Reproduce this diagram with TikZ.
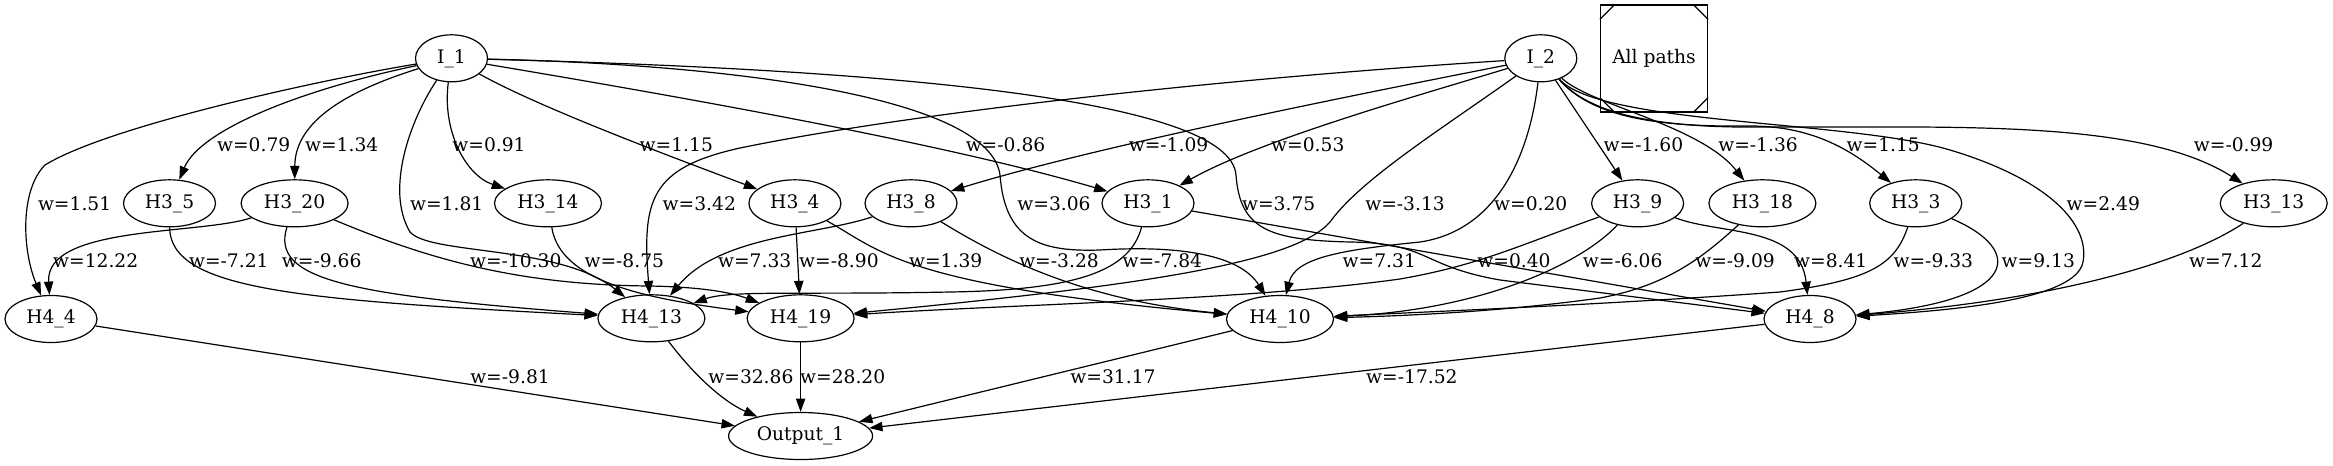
\documentclass[tikz,border=0pt]{standalone}
\usepackage{fontspec}
\setmainfont{DejaVu Serif}
\usetikzlibrary{arrows.meta,shapes.geometric}
\begin{document}
\begin{tikzpicture}[x=0.75pt,y=-0.75pt,
  every node/.style={font=\fontsize{14}{16}\selectfont},
  nd/.style={draw, ellipse, line width=0.9pt, inner sep=0pt, minimum height=35.25pt},
  ni/.style={nd, minimum width=54pt},
  ns/.style={nd, minimum width=69pt},
  nm/.style={nd, minimum width=80.25pt},
  no/.style={nd, minimum width=108pt},
  e/.style={draw, line width=0.9pt, -{Triangle[length=10pt,width=7pt]}},
  lb/.style={inner sep=0pt},
  apbox/.style={draw, line width=0.9pt, minimum width=80.25pt, minimum height=80.25pt, inner sep=0pt}
]
\useasboundingbox (0,0) rectangle (2333,465);

% nodes
\node[ni] (I1) at (451.5,58.3) {I\_1};
\node[ni] (I2) at (1540.8,58.3) {I\_2};
\node[apbox] (ap) at (1654,58.5) {All paths};
\draw[line width=0.9pt] (ap.north west) ++(0,15) -- ++(15,-15);
\draw[line width=0.9pt] (ap.north east) ++(-15,0) -- ++(15,15);
\draw[line width=0.9pt] (ap.south west) ++(0,-15) -- ++(15,15);
\draw[line width=0.9pt] (ap.south east) ++(-15,0) -- ++(15,-15);

\node[ns] (Ha5)  at (169.5,203.3) {H3\_5};
\node[nm] (Ha20) at (294.6,203.3) {H3\_20};
\node[nm] (Ha14) at (548,203.3) {H3\_14};
\node[ns] (Ha4)  at (794.9,203.3) {H3\_4};
\node[ns] (Ha8)  at (911,203.3) {H3\_8};
\node[ns] (Ha1)  at (1148,203.3) {H3\_1};
\node[ns] (Ha9)  at (1637.6,203.3) {H3\_9};
\node[nm] (Ha18) at (1762.4,203.3) {H3\_18};
\node[ns] (Ha3)  at (1915.7,203.3) {H3\_3};
\node[nm] (Ha13) at (2273.7,203.3) {H3\_13};

\node[ns] (Hb4)  at (51,319) {H4\_4};
\node[nm] (Hb13) at (651.4,318.3) {H4\_13};
\node[nm] (Hb19) at (800.6,318.3) {H4\_19};
\node[nm] (Hb10) at (1280,319) {H4\_10};
\node[ns] (Hb8)  at (1810,319) {H4\_8};
\node[no] (Out)  at (800.6,436) {Output\_1};

% I_1 edges
\draw[e] (I1) .. controls (330,78) and (110,125) .. (45,165) .. controls (20,190) and (22,250) .. (Hb4);
\draw[e] (I1) .. controls (300,90) and (200,130) .. (Ha5);
\draw[e] (I1) .. controls (350,90) and (295,120) .. (Ha20);
\draw[e] (I1) .. controls (442,130) and (465,175) .. (Ha14);
\draw[e] (I1) .. controls (410,120) and (385,190) .. (410,232) .. controls (430,255) and (560,245) .. (Hb13);
\draw[e] (I1) .. controls (540,108) and (680,160) .. (Ha4);
\draw[e] (I1) .. controls (700,100) and (950,145) .. (Ha1);
\draw[e] (I1) .. controls (750,65) and (990,100) .. (1000,175) .. controls (1005,240) and (1040,252) .. (1100,250) .. controls (1180,245) and (1240,255) .. (Hb10);
\draw[e] (I1) .. controls (900,70) and (1230,100) .. (1236,175) .. controls (1240,230) and (1270,240) .. (1350,242) .. controls (1430,243) and (1420,266) .. (1500,280) -- (Hb8);

% I_2 edges
\draw[e] (I2) .. controls (1380,90) and (1100,145) .. (Ha8);
\draw[e] (I2) .. controls (1420,95) and (1260,140) .. (Ha1);
\draw[e] (I2) .. controls (1200,80) and (900,115) .. (740,148) .. controls (650,168) and (642,200) .. (Hb13);
\draw[e] (I2) .. controls (1440,130) and (1360,180) .. (1330,222) .. controls (1295,262) and (1150,285) .. (Hb19);
\draw[e] (I2) .. controls (1530,150) and (1500,230) .. (1420,242) .. controls (1340,250) and (1295,258) .. (Hb10);
\draw[e] (I2) .. controls (1600,125) and (1850,120) .. (1950,150) .. controls (2050,180) and (2090,225) .. (2083,262) .. controls (2076,299) and (1960,310) .. (Hb8);
\draw[e] (I2) -- (Ha9);
\draw[e] (I2) .. controls (1590,105) and (1700,125) .. (Ha18);
\draw[e] (I2) .. controls (1590,115) and (1650,127) .. (1745,126) .. controls (1805,125) and (1845,145) .. (Ha3);
\draw[e] (I2) .. controls (1590,115) and (1660,128) .. (1760,127) .. controls (1950,128) and (2140,118) .. (Ha13);

% H3 -> H4 edges
\draw[e] (Ha20) .. controls (200,235) and (45,225) .. (Hb4);
\draw[e] (Ha5) .. controls (170,290) and (300,300) .. (Hb13);
\draw[e] (Ha20) .. controls (270,280) and (350,295) .. (Hb13);
\draw[e] (Ha20) .. controls (430,260) and (520,285) .. (650,286) .. controls (700,287) and (730,292) .. (Hb19);
\draw[e] (Ha14) .. controls (560,280) and (640,298) .. (Hb19);
\draw[e] (Ha4) -- (Hb19);
\draw[e] (Ha4) .. controls (880,250) and (900,285) .. (Hb10);
\draw[e] (Ha8) .. controls (820,235) and (720,235) .. (Hb13);
\draw[e] (Ha8) .. controls (995,255) and (1080,300) .. (Hb10);
\draw[e] (Ha1) .. controls (1130,270) and (1080,290) .. (950,292) .. controls (800,295) and (730,290) .. (Hb13);
\draw[e] (Ha1) -- (Hb8);
\draw[e] (Ha9) .. controls (1520,245) and (1480,265) .. (1400,279) .. controls (1250,300) and (1000,305) .. (Hb19);
\draw[e] (Ha9) .. controls (1580,265) and (1480,310) .. (Hb10);
\draw[e] (Ha9) .. controls (1720,235) and (1800,225) .. (Hb8);
\draw[e] (Ha18) .. controls (1705,255) and (1670,285) .. (1600,298) .. controls (1500,312) and (1400,316) .. (Hb10);
\draw[e] (Ha3) .. controls (1895,265) and (1870,280) .. (1780,292) .. controls (1600,305) and (1400,313) .. (Hb10);
\draw[e] (Ha3) .. controls (2025,250) and (2020,300) .. (Hb8);
\draw[e] (Ha13) .. controls (2180,265) and (2050,300) .. (Hb8);

% H4 -> Output
\draw[e] (Hb4) -- (Out);
\draw[e] (Hb13) .. controls (690,370) and (720,400) .. (Out);
\draw[e] (Hb19) -- (Out);
\draw[e] (Hb10) -- (Out);
\draw[e] (Hb8) -- (Out);

% labels row 1
\node[lb] (l01) at (253.7,145) {w=0.79};
\node[lb] (l02) at (341.7,145) {w=1.34};
\node[lb] (l03) at (489,145) {w=0.91};
\node[lb] (l04) at (676.3,145) {w=1.15};
\node[lb] (l05) at (1005.5,145) {w=-0.86};
\node[lb] (l06) at (1168.5,145) {w=-1.09};
\node[lb] (l07) at (1307.8,145) {w=0.53};
\node[lb] (l08) at (1643.4,145) {w=-1.60};
\node[lb] (l09) at (1758,145) {w=-1.36};
\node[lb] (l10) at (1883.2,145) {w=1.15};
\node[lb] (l11) at (2233.6,145) {w=-0.99};
% labels row 2
\node[lb] (l12) at (74.6,203.3) {w=1.51};
\node[lb] (l13) at (446.7,203.3) {w=1.81};
\node[lb] (l14) at (699.3,203.3) {w=3.42};
\node[lb] (l15) at (1054,203.3) {w=3.06};
\node[lb] (l16) at (1278.7,203.3) {w=3.75};
\node[lb] (l17) at (1405,203.3) {w=-3.13};
\node[lb] (l18) at (1530.7,203.3) {w=0.20};
\node[lb] (l19) at (2103.3,203.3) {w=2.49};
% labels row 3
\node[lb] (l20) at (95.7,261) {w=12.22};
\node[lb] (l21) at (228.8,261) {w=-7.21};
\node[lb] (l22) at (321.7,261) {w=-9.66};
\node[lb] (l23) at (515.7,261) {w=-10.30};
\node[lb] (l24) at (624.3,261) {w=-8.75};
\node[lb] (l25) at (754.7,261) {w=7.33};
\node[lb] (l26) at (838.9,261) {w=-8.90};
\node[lb] (l27) at (945.7,261) {w=1.39};
\node[lb] (l28) at (1059,261) {w=-3.28};
\node[lb] (l29) at (1162.3,261) {w=-7.84};
\node[lb] (l30) at (1379.3,261) {w=7.31};
\node[lb] (l31) at (1514,261) {w=0.40};
\node[lb] (l32) at (1622.7,261) {w=-6.06};
\node[lb] (l33) at (1735,261) {w=-9.09};
\node[lb] (l34) at (1830.7,261) {w=8.41};
\node[lb] (l35) at (1933.3,261) {w=-9.33};
\node[lb] (l36) at (2038.3,261) {w=9.13};
\node[lb] (l37) at (2225.8,261) {w=7.12};
% labels row 4
\node[lb] (l38) at (510,376.7) {w=-9.81};
\node[lb] (l39) at (750.9,376.7) {w=32.86};
\node[lb] (l40) at (842.7,376.7) {w=28.20};
\node[lb] (l41) at (1113,376.7) {w=31.17};
\node[lb] (l42) at (1411.9,376.7) {w=-17.52};
\end{tikzpicture}
\end{document}
